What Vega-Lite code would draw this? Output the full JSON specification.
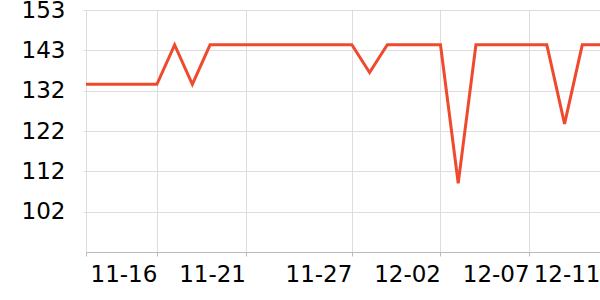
{
  "$schema": "https://vega.github.io/schema/vega-lite/v6.json",
  "width": 514,
  "height": 242,
  "autosize": "none",
  "padding": {"left": 86, "top": 10, "right": 0, "bottom": 48},
  "background": "white",
  "config": {"view": {"stroke": null}, "font": "DejaVu Sans"},
  "data": {
    "values": [
      {"date": "2023-11-12", "value": 134},
      {"date": "2023-11-13", "value": 134},
      {"date": "2023-11-14", "value": 134},
      {"date": "2023-11-15", "value": 134},
      {"date": "2023-11-16", "value": 134},
      {"date": "2023-11-17", "value": 144},
      {"date": "2023-11-18", "value": 134},
      {"date": "2023-11-19", "value": 144},
      {"date": "2023-11-20", "value": 144},
      {"date": "2023-11-21", "value": 144},
      {"date": "2023-11-22", "value": 144},
      {"date": "2023-11-23", "value": 144},
      {"date": "2023-11-24", "value": 144},
      {"date": "2023-11-25", "value": 144},
      {"date": "2023-11-26", "value": 144},
      {"date": "2023-11-27", "value": 144},
      {"date": "2023-11-28", "value": 137},
      {"date": "2023-11-29", "value": 144},
      {"date": "2023-11-30", "value": 144},
      {"date": "2023-12-01", "value": 144},
      {"date": "2023-12-02", "value": 144},
      {"date": "2023-12-03", "value": 109},
      {"date": "2023-12-04", "value": 144},
      {"date": "2023-12-05", "value": 144},
      {"date": "2023-12-06", "value": 144},
      {"date": "2023-12-07", "value": 144},
      {"date": "2023-12-08", "value": 144},
      {"date": "2023-12-09", "value": 124},
      {"date": "2023-12-10", "value": 144},
      {"date": "2023-12-11", "value": 144}
    ]
  },
  "mark": {"type": "line", "color": "#ef4a2e", "strokeWidth": 3, "strokeJoin": "miter", "clip": false},
  "encoding": {
    "x": {
      "field": "date",
      "type": "temporal",
      "scale": {"type": "utc", "nice": false, "domain": [{"year": 2023, "month": 11, "date": 12, "utc": true}, {"year": 2023, "month": 12, "date": 11, "utc": true}]},
      "axis": {
        "title": null,
        "values": [
          {"year": 2023, "month": 11, "date": 12, "utc": true},
          {"year": 2023, "month": 11, "date": 16, "utc": true},
          {"year": 2023, "month": 11, "date": 21, "utc": true},
          {"year": 2023, "month": 11, "date": 27, "utc": true},
          {"year": 2023, "month": 12, "date": 2, "utc": true},
          {"year": 2023, "month": 12, "date": 7, "utc": true},
          {"year": 2023, "month": 12, "date": 11, "utc": true}
        ],
        "labelExpr": "utcdate(datum.value) == 12 && utcmonth(datum.value) == 10 ? '' : utcFormat(datum.value, '%m-%d')",
        "labelAlign": "right",
        "labelFontSize": 23,
        "labelColor": "#000000",
        "labelPadding": 7,
        "labelOverlap": false,
        "labelFlush": false,
        "grid": true,
        "gridColor": "#dddddd",
        "gridWidth": 1,
        "domainColor": "#bbbbbb",
        "domainWidth": 1,
        "tickColor": "#bbbbbb",
        "tickSize": 4
      }
    },
    "y": {
      "field": "value",
      "type": "quantitative",
      "scale": {"domain": [91.6, 152.8], "nice": false, "zero": false},
      "axis": {
        "title": null,
        "values": [101.8, 112.0, 122.2, 132.4, 142.6, 152.8],
        "format": ".0f",
        "labelFontSize": 23,
        "labelColor": "#000000",
        "labelPadding": 18,
        "domain": false,
        "grid": true,
        "gridColor": "#dddddd",
        "tickColor": "#dddddd",
        "tickSize": 3
      }
    }
  }
}
